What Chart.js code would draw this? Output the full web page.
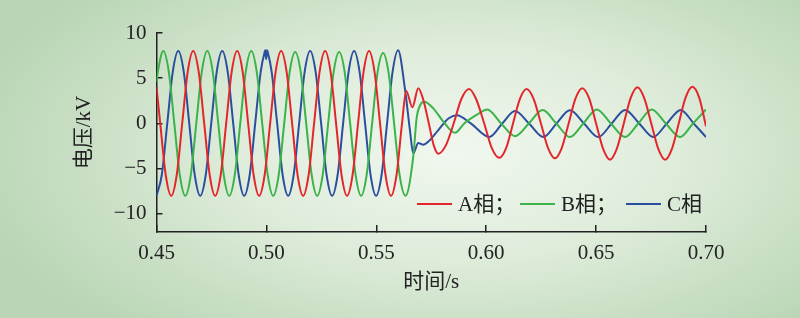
<!DOCTYPE html>
<html>
<head>
<meta charset="utf-8">
<script src="https://cdn.jsdelivr.net/npm/chart.js@4.4.0/dist/chart.umd.min.js"></script>
<style>
  html, body { margin: 0; padding: 0; }
  body {
    width: 800px; height: 318px; overflow: hidden;
    background: radial-gradient(ellipse 62% 75% at 57% 48%, #f1f7ef 0%, #deecda 45%, #c6ddc2 80%, #b9d5b5 100%);
  }
  canvas { display: block; }
</style>
</head>
<body>
<canvas id="waveChart" width="800" height="318"></canvas>
<script>
// axis ticks
const xTicks = [0.45, 0.50, 0.55, 0.60, 0.65, 0.70];
const yTicks = [-10, -5, 0, 5, 10];

// A phase (red): time in s, voltage in kV
const tA = [0.4500, 0.4517, 0.4542, 0.4567, 0.4592, 0.4617, 0.4642, 0.4667, 0.4692, 0.4717, 0.4742, 0.4767,
  0.4792, 0.4817, 0.4842, 0.4867, 0.4892, 0.4917, 0.4942, 0.4967, 0.4992, 0.5017, 0.5042, 0.5067,
  0.5092, 0.5117, 0.5142, 0.5167, 0.5192, 0.5217, 0.5242, 0.5267, 0.5292, 0.5317, 0.5342, 0.5367,
  0.5392, 0.5417, 0.5442, 0.5467, 0.5492, 0.5517, 0.5542, 0.5567, 0.5592, 0.5617, 0.5636, 0.5664,
  0.5691, 0.5714, 0.5739, 0.5761, 0.5782, 0.5817, 0.5852, 0.5887, 0.5922, 0.5954, 0.5991, 0.6025,
  0.6060, 0.6091, 0.6122, 0.6153, 0.6184, 0.6216, 0.6249, 0.6281, 0.6313, 0.6344, 0.6375, 0.6406,
  0.6437, 0.6468, 0.6500, 0.6532, 0.6563, 0.6594, 0.6626, 0.6657, 0.6688, 0.6719, 0.6751, 0.6783,
  0.6814, 0.6845, 0.6876, 0.6907, 0.6938, 0.6969, 0.7000];
const vA = [4.0, 0, -5.7, -8, -5.7, 0, 5.7, 8, 5.7, 0, -5.7, -8,
  -5.7, 0, 5.7, 8, 5.7, 0, -5.7, -8, -5.7, 0, 5.7, 8,
  5.7, 0, -5.7, -8, -5.7, 0, 5.7, 8, 5.7, 0, -5.7, -8,
  -5.7, 0, 5.7, 8, 5.7, 0, -5.7, -8, -5.7, 0, 3.6, 1.8,
  3.9, 2.6, 0, -2.4, -3.35, -2.4, 0, 2.7, 3.8, 2.7, 0, -2.7,
  -3.8, -2.7, 0, 2.7, 3.8, 2.7, 0, -2.7, -3.85, -2.7, 0, 2.75,
  3.9, 2.8, 0, -2.8, -4.0, -2.8, 0, 2.8, 4.0, 2.8, 0, -2.8,
  -4.0, -2.8, 0, 2.85, 4.05, 2.85, -0.3];

// B phase (green)
const tB = [0.4500, 0.4506, 0.4531, 0.4556, 0.4581, 0.4606, 0.4631, 0.4656, 0.4681, 0.4706, 0.4731, 0.4756,
  0.4781, 0.4806, 0.4831, 0.4856, 0.4881, 0.4906, 0.4931, 0.4956, 0.4981, 0.5006, 0.5031, 0.5056,
  0.5081, 0.5106, 0.5131, 0.5156, 0.5181, 0.5206, 0.5231, 0.5256, 0.5281, 0.5306, 0.5331, 0.5356,
  0.5381, 0.5406, 0.5431, 0.5456, 0.5481, 0.5506, 0.5531, 0.5556, 0.5581, 0.5606, 0.5633, 0.5668,
  0.5684, 0.5699, 0.5718, 0.5759, 0.5805, 0.5858, 0.5900, 0.5960, 0.6005, 0.6068, 0.6131, 0.6194,
  0.6257, 0.6319, 0.6381, 0.6442, 0.6503, 0.6567, 0.6632, 0.6692, 0.6753, 0.6817, 0.6882, 0.6941, 0.7000];
const vB = [4.6, 5.7, 8, 5.7, 0, -5.7, -8, -5.7, 0, 5.7, 8, 5.7,
  0, -5.7, -8, -5.7, 0, 5.7, 8, 5.7, 0, -5.7, -8, -5.7,
  0, 5.7, 7.9, 5.7, 0, -5.7, -8, -5.7, 0, 5.7, 7.9, 5.7,
  0, -5.7, -8, -5.7, 0, 5.7, 7.8, 5.6, 0, -5.7, -8, -3.7,
  0.7, 2.0, 2.4, 1.67, 0.2, -1.04, 0, 1.0, 1.55, 0, -1.41, 0,
  1.48, 0, -1.5, 0, 1.55, 0, -1.5, 0, 1.55, 0, -1.5, 0, 1.55];

// C phase (blue)
const tC = [0.4500, 0.4524, 0.4549, 0.4574, 0.4599, 0.4624, 0.4649, 0.4674, 0.4699, 0.4724, 0.4749, 0.4774,
  0.4799, 0.4824, 0.4849, 0.4874, 0.4899, 0.4924, 0.4949, 0.4974, 0.4992, 0.4995, 0.4999, 0.5003,
  0.5006, 0.5024, 0.5049, 0.5074, 0.5099, 0.5124, 0.5149, 0.5174, 0.5199, 0.5224, 0.5249, 0.5274,
  0.5299, 0.5324, 0.5349, 0.5374, 0.5399, 0.5424, 0.5449, 0.5474, 0.5499, 0.5524, 0.5549, 0.5574,
  0.5599, 0.5631, 0.5653, 0.5668, 0.5691, 0.5714, 0.5737, 0.5782, 0.5828, 0.5866, 0.5930, 0.6014,
  0.6073, 0.6131, 0.6195, 0.6260, 0.6320, 0.6381, 0.6445, 0.6510, 0.6571, 0.6632, 0.6696, 0.6760,
  0.6822, 0.6885, 0.6944, 0.7000];
const vC = [-8, -5.7, 0, 5.7, 8, 5.7, 0, -5.7, -8, -5.7, 0, 5.7,
  8, 5.7, 0, -5.7, -8, -5.7, 0, 5.7, 7.9, 8.1, 7.1, 8.1,
  7.9, 5.7, 0, -5.7, -8, -5.7, 0, 5.7, 8, 5.7, 0, -5.7,
  -8, -5.7, 0, 5.7, 8, 5.7, 0, -5.7, -8, -5.7, 0, 5.7,
  8.1, 3.7, -0.74, -3.3, -2.15, -2.35, -2.0, -0.74, 0.55, 0.92, 0, -1.5,
  0, 1.37, 0, -1.5, 0, 1.45, 0, -1.5, 0, 1.5, 0, -1.5,
  0, 1.5, 0, -1.5];

const phaseNames = ['A相；', 'B相；', 'C相'];
const phaseColors = ['#e3262b', '#3cb24a', '#2b4f9e'];

const serif = "'Liberation Serif', 'Times New Roman', 'Noto Sans CJK SC', serif";
const inkColor = '#222';

function toPoints(ts, vs) {
  return ts.map((t, i) => ({ x: t, y: vs[i] }));
}

// legend drawn inside the plot, bottom right
const lineLegend = {
  id: 'lineLegend',
  afterDraw(chart) {
    const ctx = chart.ctx;
    const lineX = [417, 520, 626];
    const y = 204;
    ctx.save();
    ctx.font = '21px ' + serif;
    ctx.textBaseline = 'middle';
    ctx.fillStyle = inkColor;
    chart.data.datasets.forEach((ds, i) => {
      ctx.strokeStyle = ds.borderColor;
      ctx.lineWidth = 2;
      ctx.beginPath();
      ctx.moveTo(lineX[i], y);
      ctx.lineTo(lineX[i] + 35, y);
      ctx.stroke();
      ctx.fillText(ds.label, lineX[i] + 41, y + 1);
    });
    ctx.restore();
  }
};

const ctx = document.getElementById('waveChart').getContext('2d');

const waveChart = new Chart(ctx, {
  type: 'line',
  data: {
    datasets: [
      { label: phaseNames[0], data: toPoints(tA, vA), borderColor: phaseColors[0] },
      { label: phaseNames[1], data: toPoints(tB, vB), borderColor: phaseColors[1] },
      { label: phaseNames[2], data: toPoints(tC, vC), borderColor: phaseColors[2] }
    ]
  },
  options: {
    responsive: false,
    animation: false,
    devicePixelRatio: 1,
    layout: { padding: { left: 72, right: 94, top: 33, bottom: 23 } },
    elements: {
      line: { borderWidth: 2, cubicInterpolationMode: 'monotone', fill: false },
      point: { radius: 0 }
    },
    plugins: { legend: { display: false }, tooltip: { enabled: false } },
    scales: {
      x: {
        type: 'linear',
        min: 0.45,
        max: 0.70,
        afterBuildTicks: s => { s.ticks = xTicks.map(v => ({ value: v })); },
        afterFit: s => { s.height = 63; },
        grid: { drawOnChartArea: false, drawTicks: true, tickLength: -7, color: inkColor, lineWidth: 1.5 },
        border: { color: inkColor, width: 1.5 },
        ticks: {
          padding: 16,
          maxRotation: 0,
          color: inkColor,
          font: { family: serif, size: 21 },
          callback: v => v.toFixed(2)
        },
        title: { display: true, text: '时间/s', color: inkColor, padding: 0, font: { family: serif, size: 21 } }
      },
      y: {
        min: -12,
        max: 10,
        afterBuildTicks: s => { s.ticks = yTicks.map(v => ({ value: v })); },
        afterFit: s => { s.width = 84.5; },
        grid: { drawOnChartArea: false, drawTicks: true, tickLength: -6, color: inkColor, lineWidth: 1.5 },
        border: { color: inkColor, width: 1.5 },
        ticks: {
          padding: 16,
          color: inkColor,
          font: { family: serif, size: 21 },
          callback: v => (v < 0 ? '\u2212' + Math.abs(v) : String(v))
        },
        title: { display: true, text: '电压/kV', color: inkColor, padding: 0, font: { family: serif, size: 21 } }
      }
    }
  },
  plugins: [lineLegend]
});
</script>
</body>
</html>
